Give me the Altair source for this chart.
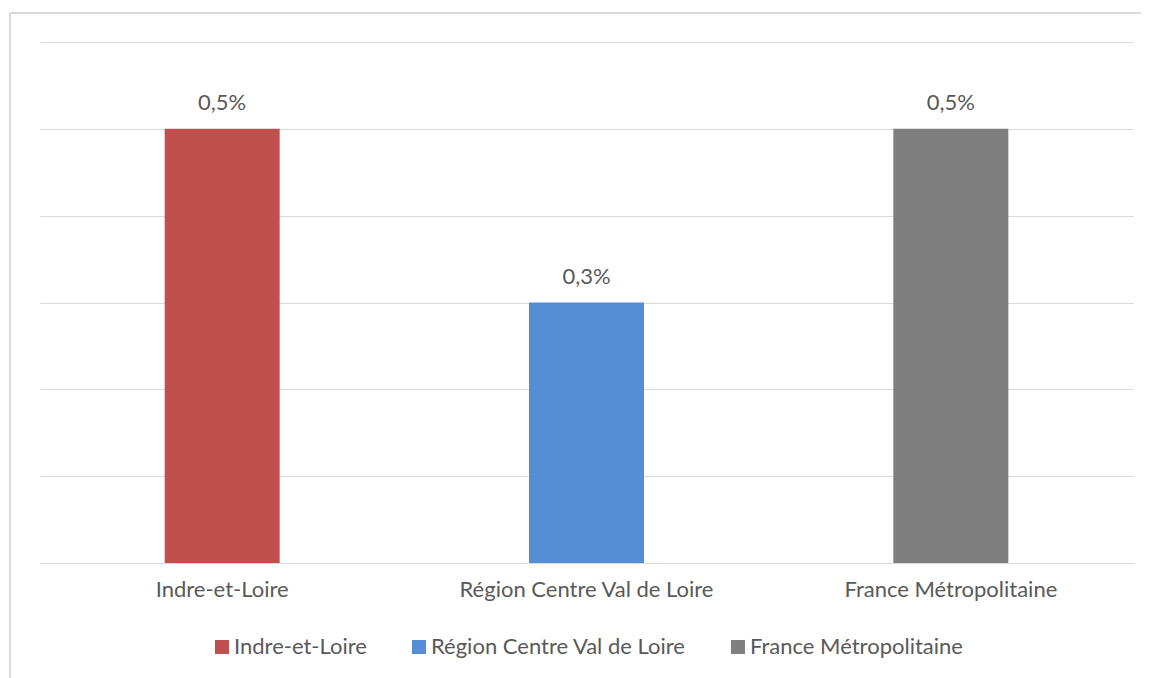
import altair as alt
import pandas as pd

categories = ["Indre-et-Loire", "Région Centre Val de Loire", "France Métropolitaine"]
values = [0.005, 0.003, 0.005]
labels = ["0,5%", "0,3%", "0,5%"]
colors = ["#C0504D", "#558ED5", "#7F7F7F"]

df = pd.DataFrame({"cat": categories, "val": values, "lab": labels})

FONT = "Lato"
FS = 22
TXT = "#595959"
GRID = "#D9D9D9"

W, H = 1093, 521

x = alt.X("cat:N", sort=categories, title=None,
          axis=alt.Axis(labelAngle=0, ticks=False, domainColor=GRID, domainWidth=1.2,
                        labelFont=FONT, labelFontSize=FS, labelColor=TXT, labelPadding=16,
                        labelBaseline="top", labelLimit=0),
          scale=alt.Scale(paddingInner=0, paddingOuter=0))
y = alt.Y("val:Q", title=None,
          scale=alt.Scale(domain=[0, 0.006], nice=False),
          axis=alt.Axis(values=[0, 0.001, 0.002, 0.003, 0.004, 0.005, 0.006], labels=False,
                        ticks=False, domain=False, grid=True, gridColor=GRID, gridWidth=1.2))

bars = alt.Chart(df).mark_bar(size=115).encode(
    x=x, y=y,
    color=alt.Color("cat:N", sort=categories, title=None,
                    scale=alt.Scale(domain=categories, range=colors),
                    legend=alt.Legend(orient="none", direction="horizontal",
                                      legendX=171, legendY=594,
                                      symbolType="square", symbolSize=196,
                                      symbolStrokeWidth=0, labelOffset=1,
                                      columnPadding=41, labelFont=FONT, labelFontSize=FS,
                                      labelColor=TXT, labelLimit=0))
)

text = alt.Chart(df).mark_text(baseline="alphabetic", dy=-19, font=FONT, fontSize=FS, color=TXT).encode(
    x=alt.X("cat:N", sort=categories), y="val:Q", text="lab:N"
)

frame_v = alt.Chart(df).mark_rule(color=GRID, strokeWidth=1.5).encode(
    x=alt.value(-30), y=alt.value(-29), y2=alt.value(H + 120)
)
frame_h = alt.Chart(df).mark_rule(color=GRID, strokeWidth=1.5).encode(
    x=alt.value(-30), x2=alt.value(W + 20), y=alt.value(-29)
)

chart = alt.layer(frame_v, frame_h, bars, text).properties(
    width=W, height=H,
    autosize=alt.AutoSizeParams(type="none"),
    padding={"left": 32, "top": 34, "right": 8, "bottom": 115},
).configure(background="white").configure_view(stroke=None)

chart.save("out.html", embed_options={"renderer": "svg", "actions": False})
